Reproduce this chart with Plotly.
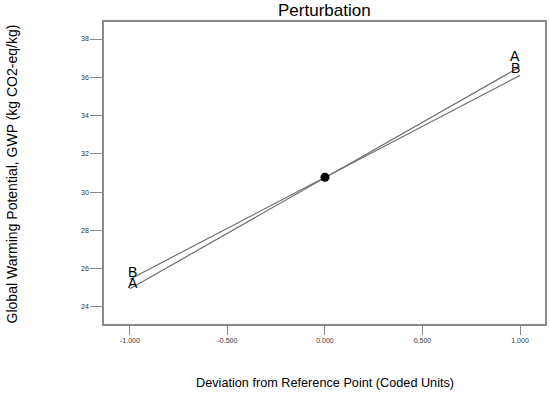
import plotly.graph_objects as go

# Data
x_coded = [-1.0, 1.0]
gwp_A = [24.95, 36.55]
gwp_B = [25.45, 36.10]
ref_x = [0.0]
ref_y = [30.78]
x_ticks = [-1.0, -0.5, 0.0, 0.5, 1.0]
x_tick_labels = ["-1.000", "-0.500", "0.000", "0.500", "1.000"]
y_ticks = [24, 26, 28, 30, 32, 34, 36, 38]
series_labels = ["A", "B"]

W, H = 550, 393
ML, MR, MT, MB = 104, 3, 22, 69
pw = W - ML - MR
ph = H - MT - MB

fig = go.Figure()
line_col = "#6e6e6e"
fig.add_trace(go.Scatter(x=x_coded, y=gwp_A, mode="lines",
                         line=dict(color=line_col, width=1.2), showlegend=False))
fig.add_trace(go.Scatter(x=x_coded, y=gwp_B, mode="lines",
                         line=dict(color=line_col, width=1.2), showlegend=False))
fig.add_trace(go.Scatter(x=ref_x, y=ref_y, mode="markers",
                         marker=dict(color="black", size=9, symbol="circle"),
                         showlegend=False))

font_fam = "Liberation Sans, Arial, sans-serif"
ann = []
# series letter labels at line ends
ann.append(dict(x=-0.985, y=gwp_A[0], text=series_labels[0], yshift=6))
ann.append(dict(x=-0.985, y=gwp_B[0], text=series_labels[1], yshift=7))
ann.append(dict(x=0.975, y=gwp_A[1], text=series_labels[0], yshift=11))
ann.append(dict(x=0.975, y=gwp_B[1], text=series_labels[1], yshift=7))
for a in ann:
    a.update(xref="x", yref="y", showarrow=False, xanchor="center", yanchor="middle",
             font=dict(family=font_fam, size=14, color="black"))

# axis titles
ann.append(dict(xref="paper", yref="paper", x=(12 - ML) / pw, y=(H - MB - 174) / ph,
                text="Global Warming Potential, GWP (kg CO2-eq/kg)", textangle=-90,
                showarrow=False, xanchor="center", yanchor="middle",
                font=dict(family=font_fam, size=14, color="black")))
ann.append(dict(xref="paper", yref="paper", x=(326 - ML) / pw, y=-(383 - (H - MB)) / ph,
                text="Deviation from Reference Point (Coded Units)",
                showarrow=False, xanchor="center", yanchor="middle",
                font=dict(family=font_fam, size=12.7, color="black")))
ann.append(dict(xref="paper", yref="paper", x=(325 - ML) / pw, y=1 + (MT - 11) / ph,
                text="Perturbation", showarrow=False, xanchor="center", yanchor="middle",
                font=dict(family=font_fam, size=17, color="black")))

axis_common = dict(showgrid=False, zeroline=False, showline=True, mirror=True,
                   linecolor="#8a8a8a", linewidth=1.5, ticks="outside",
                   tickcolor="#8a8a8a", tickwidth=1.2,
                   tickfont=dict(family=font_fam, size=7, color="#333"))

fig.update_layout(
    width=W, height=H,
    margin=dict(l=ML, r=MR, t=MT, b=MB),
    paper_bgcolor="white", plot_bgcolor="white",
    annotations=ann,
    xaxis=dict(range=[-1.133, 1.128], tickvals=x_ticks, ticktext=x_tick_labels,
               ticklen=9, **axis_common),
    yaxis=dict(range=[23.11, 38.89], tickvals=y_ticks, ticklen=12, **axis_common),
)

fig.write_html("out.html", config={"displayModeBar": False},
               post_script="document.body.style.margin='0';document.body.style.overflow='hidden';")
